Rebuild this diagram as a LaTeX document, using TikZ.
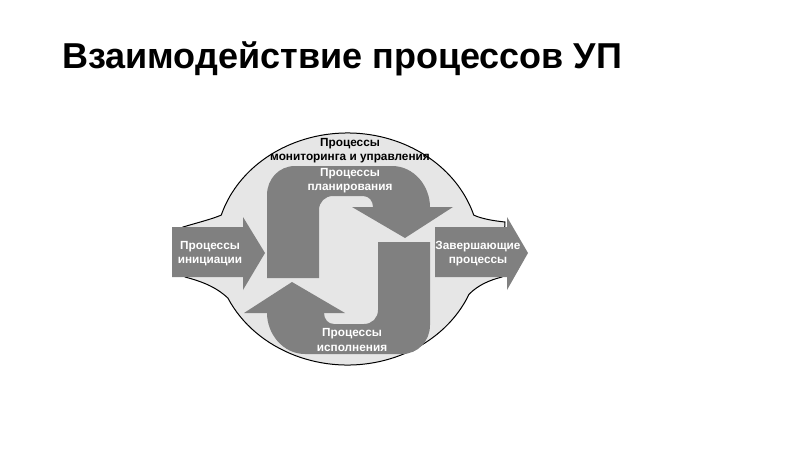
\documentclass[tikz,border=0pt]{standalone}
\usepackage{fontspec}
\setmainfont{Liberation Sans}
\definecolor{bandgray}{RGB}{128,128,128}
\definecolor{bggray}{RGB}{230,230,230}
\begin{document}
\begin{tikzpicture}[x=1pt,y=-1pt,
  band/.style={fill=bandgray,draw=none},
  inner/.style={text=white,font=\bfseries\fontsize{11.8}{14.2}\selectfont,align=center,inner sep=0pt},
  outer/.style={text=black,font=\bfseries\fontsize{11.8}{14.2}\selectfont,align=center,inner sep=0pt}]
\useasboundingbox (0,0) rectangle (800,450);
\node[anchor=base west,inner sep=0pt,font=\bfseries\fontsize{36}{40}\selectfont] (title) at (62,68) {Взаимодействие процессов УП};
\coordinate (c) at (347.5,249);
\path (c) ++(197:132 and 116) coordinate (ul)
      (c) ++(23:132 and 116) coordinate (lr);
\filldraw[fill=bggray,draw=black,line width=1pt]
  (183,227) .. controls (200,222) and (212,219) .. (ul)
  arc[start angle=197,end angle=343,x radius=132,y radius=116]
  .. controls (482,219) and (495,221) .. (505,222) -- (502,277)
  .. controls (490,280) and (478,285) .. (lr)
  arc[start angle=23,end angle=155,x radius=132,y radius=116]
  .. controls (215,286) and (200,281) .. (185,277) -- cycle;
\path[band] (172,227) -- (243,227) -- (243,217) -- (265,253) -- (243,290) -- (243,277) -- (172,277) -- cycle;
\path[band] (435,227) -- (507,227) -- (507,217) -- (528,253) -- (507,290) -- (507,277) -- (435,277) -- cycle;
\foreach \r in {0,180}
  \path[band,rotate around={\r:(348.5,260)}] (267,278) -- (267,195)
    .. controls (267,179) and (279,166) .. (295,166) -- (392,166)
    .. controls (414,166) and (430,186) .. (430,207)
    -- (453,207) -- (405,238) -- (352,207) -- (373,207)
    .. controls (373,201) and (369,196) .. (363,196) -- (333,196)
    .. controls (325,196) and (319,202) .. (319,210) -- (319,278) -- cycle;
\node[outer] (monitor) at (350,151) {Процессы\\мониторинга и управления};
\node[inner] (plan) at (350,181) {Процессы\\планирования};
\node[inner] (exec) at (352,340) {Процессы\\исполнения};
\node[inner] (init) at (210,254) {Процессы\\инициации};
\node[inner] (close) at (478,254) {Завершающие\\процессы};
\end{tikzpicture}
\end{document}
